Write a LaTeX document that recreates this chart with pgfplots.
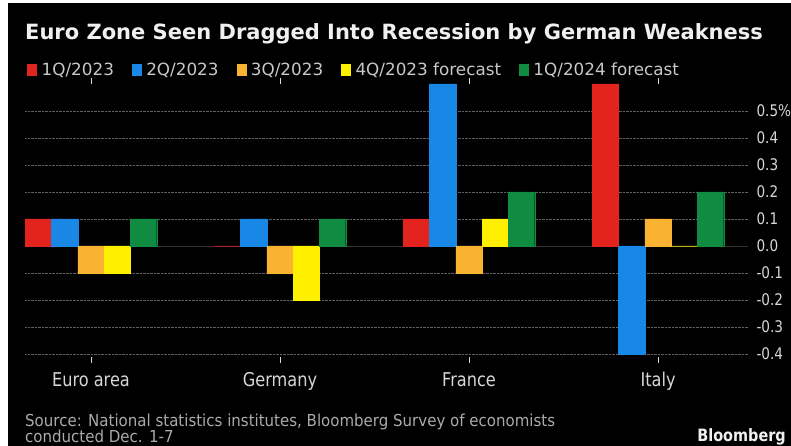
\documentclass[border=0pt]{standalone}
\usepackage{pgfplots}
\pgfplotsset{compat=1.18}
\usepackage{fontspec}
\setmainfont{DejaVu Sans}
\newfontfamily\condfont[FakeStretch=0.85]{DejaVu Sans}
\newfontfamily\srcfont[FakeStretch=0.91]{DejaVu Sans}
\definecolor{cred}{RGB}{226,35,30}
\definecolor{cblue}{RGB}{25,135,230}
\definecolor{corange}{RGB}{250,178,50}
\definecolor{cyellow}{RGB}{255,240,0}
\definecolor{cgreen}{RGB}{15,140,65}
\definecolor{titlecol}{RGB}{240,240,240}
\definecolor{legcol}{RGB}{200,200,200}
\definecolor{tickcol}{RGB}{215,215,215}
\definecolor{srccol}{RGB}{170,170,170}
\definecolor{gridcol}{RGB}{95,95,95}
\pgfplotsset{
  mybar/.style={ybar, bar width=0.139, fill=#1, draw=#1, line width=0.3pt,
    legend image code/.code={\fill[#1] (0pt,-5.5pt) rectangle (9pt,5.5pt);}},
}
\begin{document}
\begin{tikzpicture}
\useasboundingbox (0pt,0pt) rectangle (791pt,446pt);
\fill[white] (0pt,0pt) rectangle (791pt,446pt);
\fill[black] (8pt,0pt) rectangle (791pt,443pt);
\node[anchor=base west, inner sep=0pt, text=titlecol, font=\bfseries\fontsize{21}{24}\selectfont] at (25pt,406pt) {Euro Zone Seen Dragged Into Recession by German Weakness};
\begin{axis}[
  at={(25pt,89.3pt)}, anchor=south west,
  scale only axis, width=723pt, height=272.7pt,
  xmin=-0.349, xmax=3.476, ymin=-0.41, ymax=0.6,
  axis line style={draw=none},
  xtick={0,1,2,3},
  xticklabels={Euro area,Germany,France,Italy},
  ytick={-0.4,-0.3,-0.2,-0.1,0,0.1,0.2,0.3,0.4,0.5},
  yticklabels={-0.4,-0.3,-0.2,-0.1,0.0,0.1,0.2,0.3,0.4,0.5\%},
  yticklabel pos=right,
  tick align=outside, major tick length=6pt,
  xtick style={draw=tickcol, line width=0.6pt},
  ytick style={draw=none},
  ymajorgrids, major grid style={densely dotted, draw=gridcol, line width=0.8pt},
  xticklabel style={anchor=north, text=tickcol, font=\condfont\fontsize{19}{22}\selectfont, yshift=-6pt},
  yticklabel style={anchor=west, text=tickcol, font=\condfont\fontsize{16}{19}\selectfont, xshift=-1pt},
  clip=true,
  legend columns=5,
  legend style={at={(0.003,1.0513)}, anchor=west, draw=none, fill=none, inner sep=0pt,
    text=legcol, font=\fontsize{16.8}{19}\selectfont,
    /tikz/every odd column/.append style={column sep=3pt},
    /tikz/every even column/.append style={column sep=16pt}},
]
\draw[gridcol!130, line width=0.9pt] (axis cs:-0.349,0) -- (axis cs:3.476,0);
\addplot[mybar=cred, bar shift=-0.278] coordinates {(0,0.1) (1,0.0) (2,0.1) (3,0.6)};
\addlegendentry{1Q/2023}
\addplot[mybar=cblue, bar shift=-0.139] coordinates {(0,0.1) (1,0.1) (2,0.6) (3,-0.4)};
\addlegendentry{2Q/2023}
\addplot[mybar=corange, bar shift=0] coordinates {(0,-0.1) (1,-0.1) (2,-0.1) (3,0.1)};
\addlegendentry{3Q/2023}
\addplot[mybar=cyellow, bar shift=0.139] coordinates {(0,-0.1) (1,-0.2) (2,0.1) (3,0.0)};
\addlegendentry{4Q/2023 forecast}
\addplot[mybar=cgreen, bar shift=0.278] coordinates {(0,0.1) (1,0.1) (2,0.2) (3,0.2)};
\addlegendentry{1Q/2024 forecast}
\end{axis}
\node[anchor=base west, inner sep=0pt, text=srccol, font=\srcfont\fontsize{16.5}{19}\selectfont] at (25pt,19pt) {Source: National statistics institutes, Bloomberg Survey of economists};
\node[anchor=base west, inner sep=0pt, text=srccol, font=\srcfont\fontsize{16.5}{19}\selectfont] at (25pt,3.5pt) {conducted Dec. 1-7};
\node[anchor=base east, inner sep=0pt, text=titlecol, font=\condfont\bfseries\fontsize{17}{20}\selectfont] at (786pt,4pt) {Bloomberg};
\end{tikzpicture}
\end{document}
